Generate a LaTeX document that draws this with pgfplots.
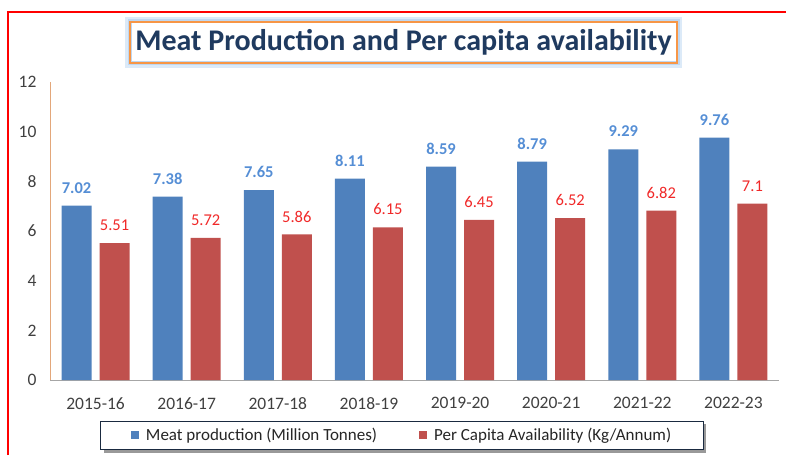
\documentclass[border=0pt]{standalone}
\usepackage{pgfplots}
\pgfplotsset{compat=1.18}
\usepackage{fontspec}
\setmainfont{Carlito}
\definecolor{barblue}{HTML}{4F81BD}
\definecolor{barred}{HTML}{C0504D}
\definecolor{lblblue}{HTML}{558ED5}
\definecolor{lblred}{HTML}{F02828}
\definecolor{titleblue}{HTML}{1F3A5F}
\definecolor{tickgray}{HTML}{404040}
\definecolor{axorange}{HTML}{E3A77A}
\definecolor{glow}{HTML}{9CC2EA}
\definecolor{titleorange}{HTML}{F79646}
\definecolor{legborder}{HTML}{1A2A40}

\begin{document}
\begin{tikzpicture}[x=1pt,y=1pt]
\begin{axis}[
  name=ax,
  scale only axis, width=729pt, height=298pt,
  ymin=0, ymax=12, ytick={0,2,...,12},
  xmin=-0.5, xmax=7.5, xtick={0,...,7},
  xticklabels={2015-16,2016-17,2017-18,2018-19,2019-20,2020-21,2021-22,2022-23},
  /pgf/number format/assume math mode=true,
  axis x line*=bottom, axis y line*=left,
  axis line style={-},
  x axis line style={color=black!35, line width=1pt},
  y axis line style={color=axorange, line width=1pt},
  major tick length=0pt,
  ticklabel style={font=\fontsize{17.5}{21}\selectfont, text=tickgray},
  xticklabel style={yshift=-14pt},
  yticklabel style={xshift=-10pt},
  ybar, bar width=30pt,
  legend columns=2,
  legend style={at={(0.483,-0.186)}, anchor=center, draw=legborder, line width=1pt, fill=white,
    font=\fontsize{17}{20}\selectfont, text=black!85,
    inner xsep=30.5pt, inner ysep=5pt,
    /tikz/every odd column/.append style={column sep=5pt},
    /tikz/every even column/.append style={column sep=40pt}},
  legend image code/.code={\fill[#1, draw=none] (0pt,-4pt) rectangle (8pt,4pt);},
  clip=false,
]
% shadow of the legend box (legend is drawn on top of it)
\fill[black, opacity=0.4] (rel axis cs:0.0734,-0.2433) rectangle (rel axis cs:0.9005,-0.146);
\addplot[fill=barblue, draw=none, bar shift=-19pt,
  nodes near coords,
  nodes near coords style={font=\fontsize{16.5}{19}\selectfont\bfseries, text=lblblue, anchor=south, inner sep=0pt, yshift=12pt}]
  coordinates {(0,7.02) (1,7.38) (2,7.65) (3,8.11) (4,8.59) (5,8.79) (6,9.29) (7,9.76)};
\addlegendentry{Meat production (Million Tonnes)}
\addplot[fill=barred, draw=none, bar shift=19pt,
  nodes near coords,
  nodes near coords style={font=\fontsize{16.5}{19}\selectfont, text=lblred, anchor=south, inner sep=0pt, yshift=12pt}]
  coordinates {(0,5.51) (1,5.72) (2,5.86) (3,6.15) (4,6.45) (5,6.52) (6,6.82) (7,7.1)};
\addlegendentry{Per Capita Availability (Kg/Annum)}
\end{axis}
\path (ax.south west) ++(-50,-75) coordinate (O);
\pgfresetboundingbox
\begin{scope}[shift={(O)}]
\useasboundingbox (0,0) rectangle (786,455);
\draw[red, line width=1.5pt] (8,0) -- (8,443) -- (786,443);
% title box with glow
\draw[glow!35, line width=10pt] (130,392) rectangle (677,433);
\draw[glow!65, line width=5pt] (130,392) rectangle (677,433);
\fill[white] (131.5,393.5) rectangle (675.5,431.5);
\draw[titleorange, line width=1.5pt] (130,392) rectangle (677,433);
\node[font=\fontsize{30}{34}\selectfont\bfseries, text=titleblue] at (403.5,412.5) {Meat Production and Per capita availability};
\end{scope}
\end{tikzpicture}
\end{document}
